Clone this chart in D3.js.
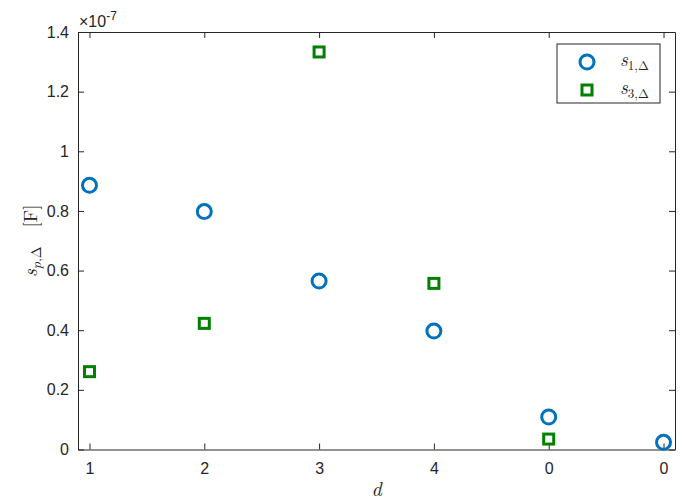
<!DOCTYPE html>
<html>
<head>
<meta charset="utf-8">
<script src="https://cdn.jsdelivr.net/npm/d3@7"></script>
<style>
  body { margin: 0; background: #fff; }
  svg { display: block; }
  .tick text { font-family: "Liberation Sans", Arial, sans-serif; font-size: 16px; fill: #262626; }
  .math { font-family: "Latin Modern Roman", "CMU Serif", "Liberation Serif", serif; fill: #262626; }
</style>
</head>
<body>
<div id="chart"></div>
<script>
// x positions are 1..6, labelled with these strings
const tickLabels = ['1', '2', '3', '4', '0', '0'];
const xPos = [1, 2, 3, 4, 5, 6];
// values in units of 1e-7 F
const s1 = [0.886, 0.798, 0.565, 0.397, 0.109, 0.024];
const s3 = [0.261, 0.423, 1.333, 0.557, 0.035, null];
const yTicks = [0, 0.2, 0.4, 0.6, 0.8, 1, 1.2, 1.4];

const W = 686, H = 502;
const margin = { top: 32, right: 11, bottom: 52.5, left: 78 };
const width = W - margin.left - margin.right;
const height = H - margin.top - margin.bottom;
const axisColor = '#262626';
const blue = '#0072BD', green = '#008000';

const svg = d3.select('#chart').append('svg')
  .attr('width', W).attr('height', H);
const g = svg.append('g').attr('transform', `translate(${margin.left},${margin.top})`);

const x = d3.scaleLinear().domain([0.9, 6.1]).range([0, width]);
const y = d3.scaleLinear().domain([0, 1.4]).range([height, 0]);

// axes (box with inward ticks on all four sides)
const xAxis = g.append('g').attr('transform', `translate(0,${height})`)
  .call(d3.axisBottom(x).tickValues(xPos).tickFormat((d, i) => tickLabels[i]).tickSizeInner(-6).tickSizeOuter(0).tickPadding(13));
const xTop = g.append('g')
  .call(d3.axisTop(x).tickValues(xPos).tickFormat('').tickSizeInner(-6).tickSizeOuter(0));
const yAxis = g.append('g')
  .call(d3.axisLeft(y).tickValues(yTicks).tickFormat(d3.format('~g')).tickSizeInner(-6).tickSizeOuter(0).tickPadding(9));
const yRight = g.append('g').attr('transform', `translate(${width},0)`)
  .call(d3.axisRight(y).tickValues(yTicks).tickFormat('').tickSizeInner(-6).tickSizeOuter(0));

[xAxis, xTop, yAxis, yRight].forEach(a => {
  a.select('.domain').attr('stroke', axisColor).attr('stroke-width', 1);
  a.selectAll('.tick line').attr('stroke', axisColor).attr('stroke-width', 1);
});

// exponent label
const ex = g.append('text').attr('x', 1).attr('y', -5)
  .style('font-family', '"Liberation Sans", Arial, sans-serif').style('font-size', '16px').attr('fill', axisColor);
ex.append('tspan').text('\u00d710');
ex.append('tspan').attr('dy', -7).style('font-size', '12px').text('-7');

// series s1: circles
g.append('g').selectAll('circle')
  .data(s1.map((v, i) => ({ x: xPos[i], v })).filter(d => d.v != null))
  .enter().append('circle')
  .attr('cx', d => x(d.x)).attr('cy', d => y(d.v))
  .attr('r', 7).attr('fill', 'none').attr('stroke', blue).attr('stroke-width', 3);

// series s3: squares
const sq = 10;
g.append('g').selectAll('rect')
  .data(s3.map((v, i) => ({ x: xPos[i], v })).filter(d => d.v != null))
  .enter().append('rect')
  .attr('x', d => x(d.x) - sq / 2).attr('y', d => y(d.v) - sq / 2)
  .attr('width', sq).attr('height', sq)
  .attr('fill', 'none').attr('stroke', green).attr('stroke-width', 3);

// axis labels
svg.append('text').attr('class', 'math')
  .attr('x', margin.left + width / 2).attr('y', 496)
  .attr('text-anchor', 'middle').style('font-size', '20px').style('font-style', 'italic').text('d');

const yl = svg.append('text').attr('class', 'math')
  .attr('transform', `translate(37,${margin.top + height / 2}) rotate(-90)`)
  .attr('text-anchor', 'middle').style('font-size', '19px');
yl.append('tspan').style('font-style', 'italic').text('s');
yl.append('tspan').attr('dy', 4).style('font-size', '14px').style('font-style', 'italic').text('p');
yl.append('tspan').style('font-size', '14px').text(',\u0394');
yl.append('tspan').attr('dy', -4).text('\u2002\u2002[F]');

// legend
const lg = svg.append('g').attr('transform', 'translate(557,44)');
lg.append('rect').attr('width', 103).attr('height', 59)
  .attr('fill', '#fff').attr('stroke', axisColor).attr('stroke-width', 1);
lg.append('circle').attr('cx', 30).attr('cy', 18).attr('r', 7)
  .attr('fill', 'none').attr('stroke', blue).attr('stroke-width', 3);
lg.append('rect').attr('x', 25).attr('y', 41).attr('width', sq).attr('height', sq)
  .attr('fill', 'none').attr('stroke', green).attr('stroke-width', 3);
[['1', 22], ['3', 50]].forEach(([n, yy]) => {
  const t = lg.append('text').attr('class', 'math').attr('x', 63).attr('y', yy).style('font-size', '19px');
  t.append('tspan').style('font-style', 'italic').text('s');
  t.append('tspan').attr('dy', 4).style('font-size', '13px').text(n + ',\u0394');
});
</script>
</body>
</html>
